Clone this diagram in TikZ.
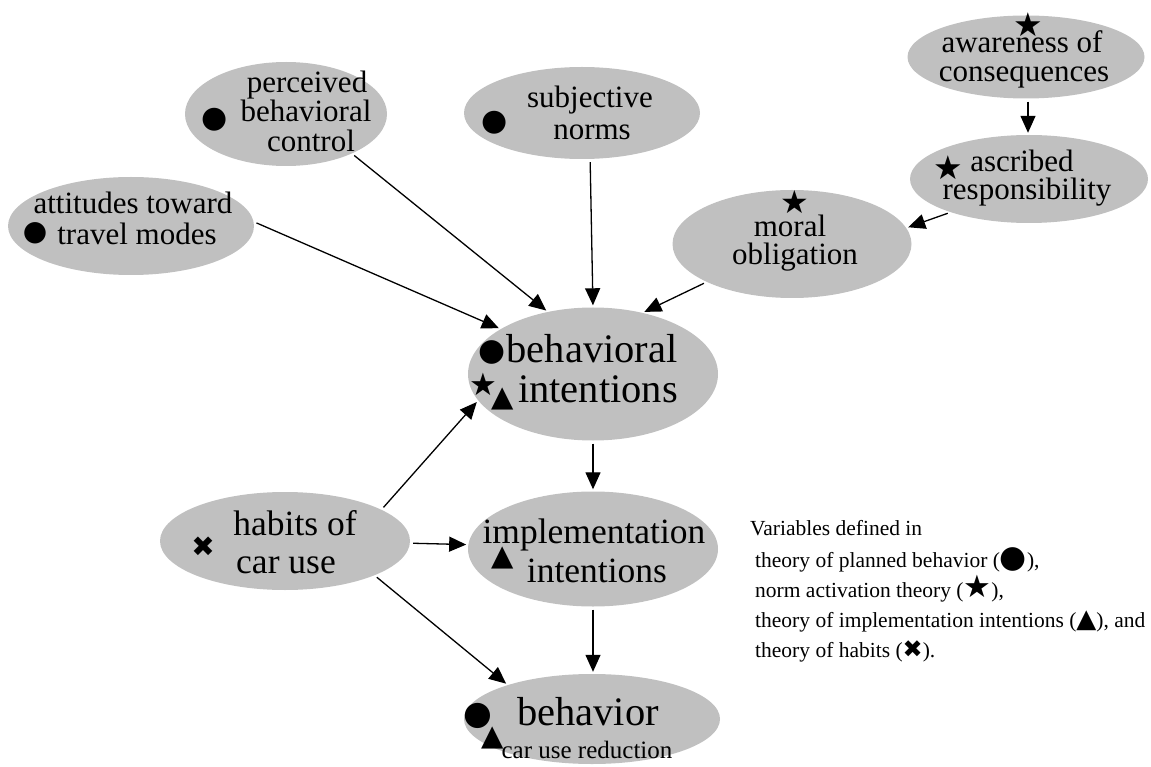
\documentclass[tikz,border=0pt]{standalone}
\usepackage{fontspec}
\setmainfont{Liberation Serif}
\newfontfamily\dejavu{DejaVu Sans}
\usetikzlibrary{arrows.meta,shapes.geometric}
\definecolor{ellgray}{RGB}{192,192,192}
\tikzset{
  ell/.style={ellipse, fill=ellgray, draw=none, inner sep=0pt},
  arr/.style={line width=1.3pt, -{Triangle[length=17pt,width=15pt]}, shorten <=3pt, shorten >=2pt},
  txt/.style={inner sep=0pt, anchor=base, font=\fontsize{31}{31}\selectfont},
  bigtxt/.style={inner sep=0pt, anchor=base, font=\fontsize{40.5}{40.5}\selectfont},
  midtxt/.style={inner sep=0pt, anchor=base, font=\fontsize{35.5}{35.5}\selectfont},
  legtxt/.style={inner sep=0pt, anchor=base west, font=\fontsize{21.5}{21.5}\selectfont},
  sym/.style={inner sep=0pt, anchor=center},
}
\newcommand{\mydot}[1]{{\dejavu\fontsize{#1}{#1}\selectfont ●}}
\newcommand{\mystar}[1]{{\dejavu\fontsize{#1}{#1}\selectfont ★}}
\newcommand{\mytri}[1]{{\dejavu\fontsize{#1}{#1}\selectfont ▲}}
\newcommand{\mycross}[1]{{\dejavu\fontsize{#1}{#1}\selectfont ✖}}
\begin{document}
\begin{tikzpicture}[x=1pt,y=-1pt]
\useasboundingbox (0,0) rectangle (1151,767);
% ellipses
\node[ell, minimum width=202pt, minimum height=104pt] (pbc) at (286,114) {};
\node[ell, minimum width=236pt, minimum height=92pt] (sn) at (582,113) {};
\node[ell, minimum width=237pt, minimum height=83pt] (aoc) at (1026,57) {};
\node[ell, minimum width=238pt, minimum height=88pt] (ar) at (1029,179) {};
\node[ell, minimum width=246pt, minimum height=98pt] (att) at (131,226) {};
\node[ell, minimum width=239pt, minimum height=108pt] (mo) at (792,244) {};
\node[ell, minimum width=250pt, minimum height=133pt] (bi) at (593,374) {};
\node[ell, minimum width=250pt, minimum height=98pt] (hab) at (285,541) {};
\node[ell, minimum width=250pt, minimum height=115pt] (ii) at (593,549) {};
\node[ell, minimum width=256pt, minimum height=90pt] (beh) at (592,719) {};
% texts
\node[txt] (pbc1) at (307,93) {perceived};
\node[txt] (pbc2) at (306,122) {behavioral};
\node[txt] (pbc3) at (311,152) {control};
\node[sym] (pbcs) at (215,120) {\mydot{30}};
\node[txt] (sn1) at (590,108) {subjective};
\node[txt] (sn2) at (592,140) {norms};
\node[sym] (sns) at (495,123) {\mydot{30}};
\node[txt] (aoc1) at (1022,53) {awareness of};
\node[txt] (aoc2) at (1024,82) {consequences};
\node[sym] (aocs) at (1028,25) {\mystar{33}};
\node[txt] (ar1) at (1022,172) {ascribed};
\node[txt] (ar2) at (1027,200) {responsibility};
\node[sym] (ars) at (948,168) {\mystar{33}};
\node[txt] (att1) at (133,214) {attitudes toward};
\node[txt] (att2) at (137,245) {travel modes};
\node[sym] (atts) at (35,233) {\mydot{28}};
\node[txt] (mo1) at (790,237) {moral};
\node[txt] (mo2) at (795,265) {obligation};
\node[sym] (mos) at (795,202) {\mystar{32}};
\node[bigtxt] (bi1) at (592,362) {behavioral};
\node[bigtxt] (bi2) at (598,402) {intentions};
\node[sym] (bis1) at (492,352) {\mydot{31}};
\node[sym] (bis2) at (483,384) {\mystar{31}};
\node[sym] (bis3) at (503,399) {\mytri{29}};
\node[midtxt] (hab1) at (295,535) {habits of};
\node[midtxt] (hab2) at (286,573) {car use};
\node[sym] (habs) at (203,547) {\mycross{28}};
\node[midtxt] (ii1) at (594,543) {implementation};
\node[midtxt] (ii2) at (597,582) {intentions};
\node[sym] (iis) at (503,558) {\mytri{29}};
\node[bigtxt] (beh1) at (588,725) {behavior};
\node[inner sep=0pt, anchor=base, font=\fontsize{25}{25}\selectfont] (beh2) at (587,758) {car use reduction};
\node[sym] (behs1) at (478,716) {\mydot{33}};
\node[sym] (behs2) at (493,738) {\mytri{29}};
% legend
\node[legtxt] (lg1) at (750,535) {Variables defined in};
\node[legtxt] (lg2) at (755,567) {theory of planned behavior ({\dejavu\fontsize{31}{20}\selectfont ●}),};
\node[legtxt] (lg3) at (755,597) {norm activation theory ({\dejavu\fontsize{31}{20}\selectfont ★}),};
\node[legtxt] (lg4) at (755,627) {theory of implementation intentions ({\dejavu\fontsize{26}{20}\selectfont ▲}), and};
\node[legtxt] (lg5) at (755,657) {theory of habits ({\dejavu\fontsize{24}{20}\selectfont ✖}).};
% arrows
\draw[arr] ([xshift=2pt]aoc.south) -- ([xshift=-1pt]ar.north);
\draw[arr] (ar.203) -- (mo.8);
\draw[arr] (pbc.-31) -- (bi.126);
\draw[arr] (sn.-80) -- (bi.90);
\draw[arr] (att.2) -- (bi.154);
\draw[arr] (mo.204) -- (bi.51);
\draw[arr] (hab.18) -- (bi.193);
\draw[arr] (hab.-1) -- (ii.178);
\draw[arr] (hab.-21) -- (beh.158);
\draw[arr] (bi.south) -- (ii.north);
\draw[arr] (ii.south) -- ([xshift=1pt]beh.north);
\end{tikzpicture}
\end{document}
